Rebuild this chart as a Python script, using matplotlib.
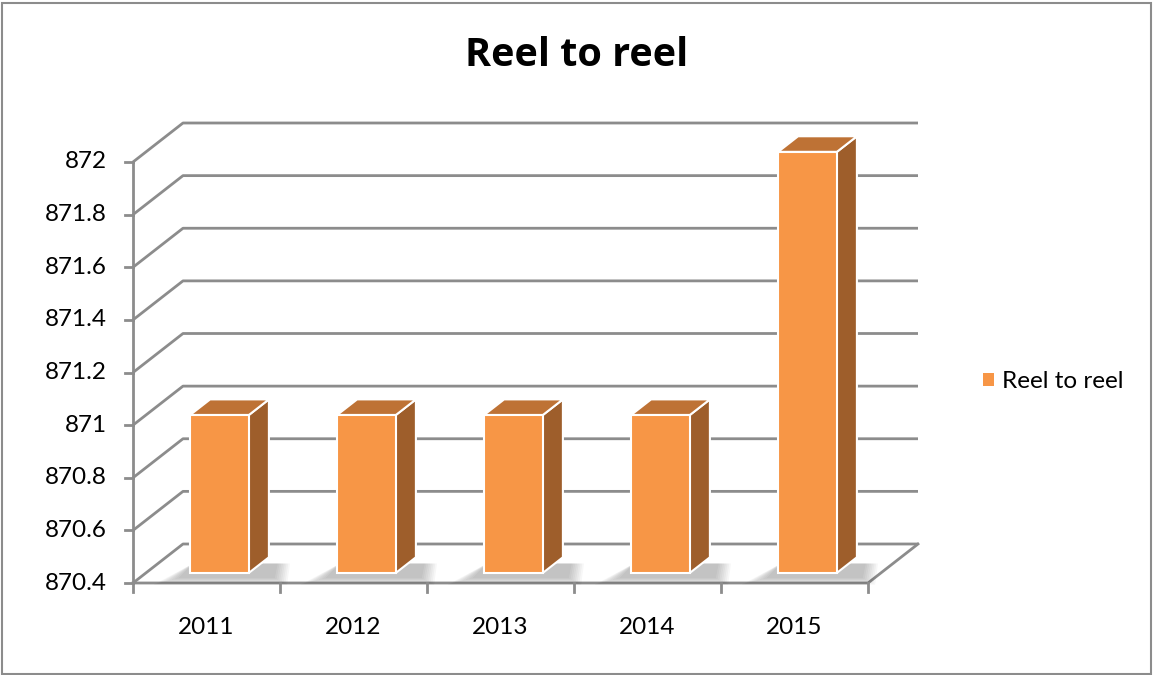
import matplotlib.pyplot as plt
from matplotlib.patches import Polygon, Patch, Rectangle
import numpy as np

plt.rcParams['font.family'] = ['Lato', 'DejaVu Sans']

# data
years = ['2011', '2012', '2013', '2014', '2015']
values = [871.0, 871.0, 871.0, 871.0, 872.0]
y_ticks = [870.4, 870.6, 870.8, 871.0, 871.2, 871.4, 871.6, 871.8, 872.0]
series_name = 'Reel to reel'

FRONT = '#F79646'
TOP = '#BE7235'
SIDE = '#9E5E2B'
GRID = '#8C8C8C'

W, H = 1153, 675
fig = plt.figure(figsize=(W / 100, H / 100), dpi=100)
# front plane of the pseudo-3D box, in pixels
left_px, right_px, top_px, bot_px = 133, 868, 162, 583
ax = fig.add_axes([left_px / W, 1 - bot_px / H, (right_px - left_px) / W, (bot_px - top_px) / H])
ymin, ymax = y_ticks[0], y_ticks[-1]
n = len(years)
ax.set_xlim(0, n)
ax.set_ylim(ymin, ymax)
ax.axis('off')

# depth offset in data units (50 px right, 39 px up)
px_x = (right_px - left_px) / n
px_y = (bot_px - top_px) / (ymax - ymin)
DX, DY = 50 / px_x, 39 / px_y

# back wall gridlines with side-wall slant
for v in y_ticks:
    ax.plot([0, DX, n + DX], [v, v + DY, v + DY], color=GRID, lw=2, clip_on=False, zorder=1,
            solid_capstyle='butt')
# floor front edge and right edge
ax.plot([0, n, n + DX], [ymin, ymin, ymin + DY], color=GRID, lw=2, clip_on=False, zorder=1)
# left axis line
ax.plot([0, 0], [ymin, ymax], color=GRID, lw=2, clip_on=False, zorder=5)

# ticks
tick_len_x = 8 / px_x
tick_len_y = 9 / px_y
for v in y_ticks:
    ax.plot([-tick_len_x, 0], [v, v], color=GRID, lw=2, clip_on=False, zorder=5)
    ax.text(-26 / px_x, v, f'{v:g}', ha='right', va='center', fontsize=17.5, color='#000000')
for i in range(n + 1):
    ax.plot([i, i], [ymin, ymin - tick_len_y], color=GRID, lw=2, clip_on=False, zorder=5)
for i, y in enumerate(years):
    ax.text(i + 0.5, ymin - 45 / px_y, y, ha='center', va='center', fontsize=17.5)

# bars
bw = 0.40
f0, f1 = 0.26, 0.66
for i, v in enumerate(values):
    x0 = i + 0.5 - bw / 2 + f0 * DX
    x1 = x0 + bw
    b = ymin + f0 * DY
    t = v + f0 * DY
    ddx, ddy = (f1 - f0) * DX, (f1 - f0) * DY
    # soft shadow on the floor
    for k in range(8):
        g = k * 0.012
        sh = Polygon([(x0 - 0.08 - g * 2, b - 0.02 - g * 0.3), (x1 + ddx + 0.04 + g, b - 0.02 - g * 0.3),
                      (x1 + ddx + 0.06 + g, b + ddy * 0.6), (x0 + 0.02, b + ddy * 0.6)],
                     closed=True, facecolor='#000000', edgecolor='none', alpha=0.03,
                     clip_on=False, zorder=2)
        ax.add_patch(sh)
    side = Polygon([(x1, b), (x1 + ddx, b + ddy), (x1 + ddx, t + ddy), (x1, t)],
                   closed=True, facecolor=SIDE, edgecolor='white', lw=1.5, clip_on=False, zorder=3)
    top = Polygon([(x0, t), (x1, t), (x1 + ddx, t + ddy), (x0 + ddx, t + ddy)],
                  closed=True, facecolor=TOP, edgecolor='white', lw=1.5, clip_on=False, zorder=3)
    front = Rectangle((x0, b), bw, v - ymin, facecolor=FRONT, edgecolor='white', lw=1.5,
                      clip_on=False, zorder=4)
    ax.add_patch(side)
    ax.add_patch(top)
    ax.add_patch(front)

fig.text(577 / W, 1 - 55 / H, series_name, ha='center', va='center', fontsize=28.5,
         fontweight='bold', family=['Open Sans', 'DejaVu Sans'])

fig.legend(handles=[Patch(facecolor=FRONT, edgecolor='none', label=series_name)],
           loc='center left', bbox_to_anchor=(961 / W, 1 - 382 / H), frameon=False,
           fontsize=17.5, handlelength=0.45, handleheight=0.45, handletextpad=0.35)

# chart frame
fig.patches.append(Rectangle((2 / W, 1 / H), 1 - 4 / W, 1 - 4 / H, transform=fig.transFigure,
                             facecolor='none', edgecolor='#8C8C8C', lw=1.5))

fig.savefig('out.png', dpi=100, facecolor='white')
